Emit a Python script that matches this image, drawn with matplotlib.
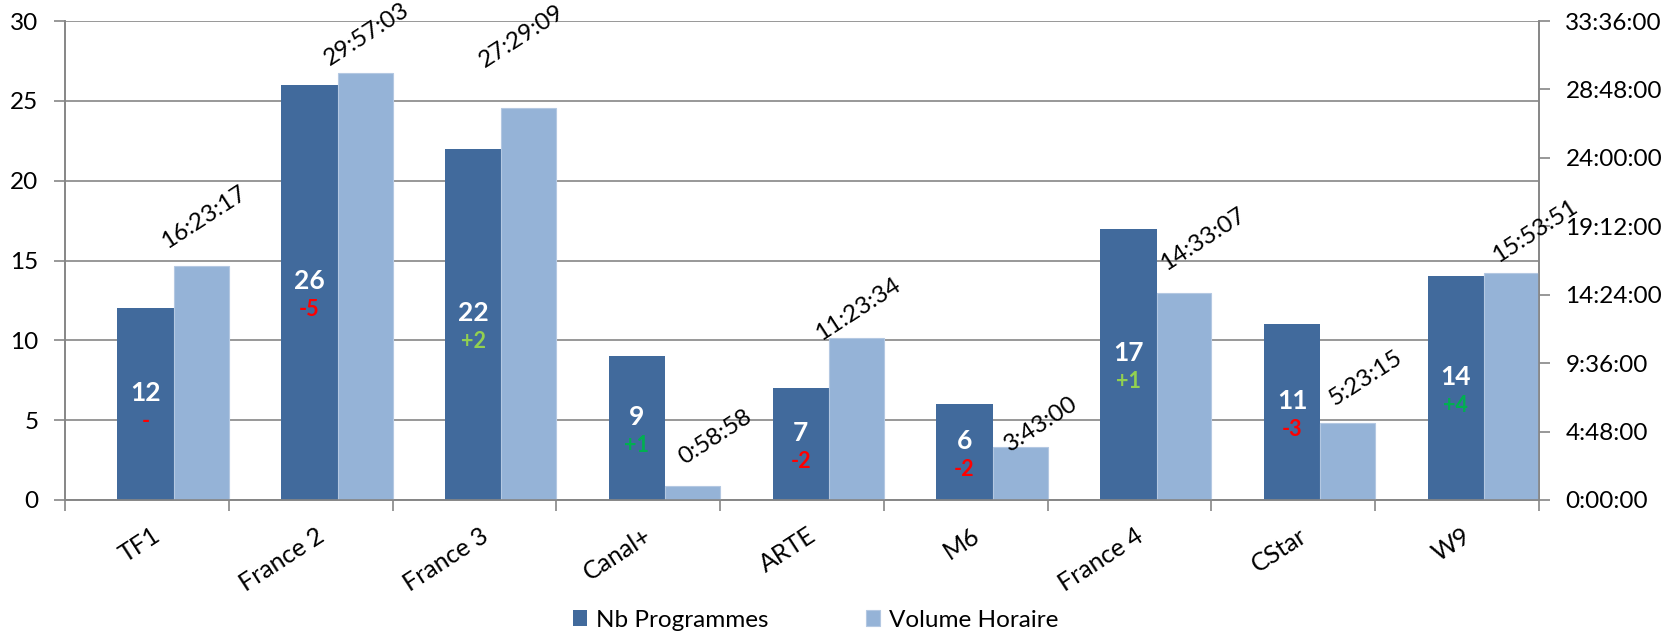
import numpy as np
import matplotlib.pyplot as plt
import matplotlib.transforms as mtransforms

plt.rcParams['font.family'] = ['Lato', 'DejaVu Sans']

channels = ['TF1', 'France 2', 'France 3', 'Canal+', 'ARTE', 'M6', 'France 4', 'CStar', 'W9']
nb_programmes = [12, 26, 22, 9, 7, 6, 17, 11, 14]
evolution = ['-', '-5', '+2', '+1', '-2', '-2', '+1', '-3', '+4']
volume_horaire = ['16:23:17', '29:57:03', '27:29:09', '0:58:58', '11:23:34',
                  '3:43:00', '14:33:07', '5:23:15', '15:53:51']

# colours of the evolution labels
evo_colors = ['#FF0000', '#FF0000', '#92D050', '#00B050', '#FF0000',
              '#FF0000', '#92D050', '#FF0000', '#00B050']
# hand placed volume labels (offset in pixels from top of bar)
label_nudge = [(3, 49), (2, 39), (-7, 72), (23, 49), (2, 28), (21, 23), (19, 53), (18, 45), (24, 42)]


def to_hours(s):
    h, m, sec = [int(p) for p in s.split(':')]
    return h + m / 60 + sec / 3600


def fmt_hours(v):
    h = int(v + 1e-9)
    m = int(round((v - h) * 60))
    return '%d:%02d:00' % (h, m)


hours = [to_hours(v) for v in volume_horaire]
x = np.arange(len(channels))

dark = '#416A9C'
light = '#95B3D7'
grey = '#868686'

fig = plt.figure(figsize=(16.78, 6.38), dpi=100)
ax = fig.add_axes([65 / 1678, 138 / 638, 1474 / 1678, 479 / 638])
ax2 = ax.twinx()

b1 = ax.bar(x + 0.32, nb_programmes, width=0.345, align='edge', color=dark, zorder=3)
b2 = ax2.bar(x + 0.665, hours, width=0.335, align='edge', color=light,
             edgecolor='#B4C8E2', linewidth=0.8)

ax.set_xlim(0, len(channels))
ax.set_ylim(0, 30)
ax2.set_ylim(0, 33.6)
ax.set_yticks(range(0, 31, 5))
ax2.set_yticks(np.arange(0, 33.7, 4.8))
ax2.set_yticklabels([fmt_hours(v) for v in np.arange(0, 33.7, 4.8)])

ax.yaxis.grid(True, color=grey, linewidth=1.2)
ax.set_axisbelow(True)

for a in (ax, ax2):
    a.spines['top'].set_visible(False)
    for side in ('left', 'right', 'bottom'):
        a.spines[side].set_color(grey)
        a.spines[side].set_linewidth(1.2)

ax.tick_params(axis='y', length=8, width=1.2, color=grey, labelsize=17.5, pad=11)
ax2.tick_params(axis='y', length=8, width=1.2, color=grey, labelsize=17.5, pad=11)

# category ticks on boundaries, labels at centres
ax.set_xticks(np.arange(0, len(channels) + 1))
ax.set_xticklabels([])
ax.set_xticks(x + 0.5, minor=True)
ax.set_xticklabels(channels, minor=True)
ax.tick_params(axis='x', which='major', length=8, width=1.2, color=grey)
ax.tick_params(axis='x', which='minor', length=0, labelsize=18, pad=17)
shift = mtransforms.ScaledTranslation(0.05, 0, fig.dpi_scale_trans)
for lab in ax.get_xticklabels(minor=True):
    lab.set_rotation(33)
    lab.set_ha('right')
    lab.set_va('top')
    lab.set_rotation_mode('anchor')
    lab.set_transform(lab.get_transform() + shift)

# labels inside dark bars
for xi, n, evo, c in zip(x, nb_programmes, evolution, evo_colors):
    cx = xi + 0.4925
    ax.annotate(str(n), (cx, n / 2), xytext=(0, 11), textcoords='offset pixels',
                ha='center', va='center', color='white', fontsize=19,
                fontweight='bold', zorder=4)
    ax.annotate(evo, (cx, n / 2), xytext=(0, -17), textcoords='offset pixels',
                ha='center', va='center', color=c, fontsize=15.5,
                fontweight='bold', zorder=4)

# volume labels above light bars
for xi, h, s, (dx, dy) in zip(x, hours, volume_horaire, label_nudge):
    ax2.annotate(s, (xi + 0.8325, h), xytext=(dx, dy), textcoords='offset pixels',
                 ha='center', va='center', rotation=33, fontsize=17.5, color='black')

fig.legend([b1, b2], ['Nb Programmes', 'Volume Horaire'], loc='center',
           bbox_to_anchor=(0.486, 0.028), ncol=2, frameon=False, fontsize=17.5,
           handlelength=0.6, handleheight=0.6, handletextpad=0.35, columnspacing=4.0)

fig.savefig('out.png', dpi=100)
